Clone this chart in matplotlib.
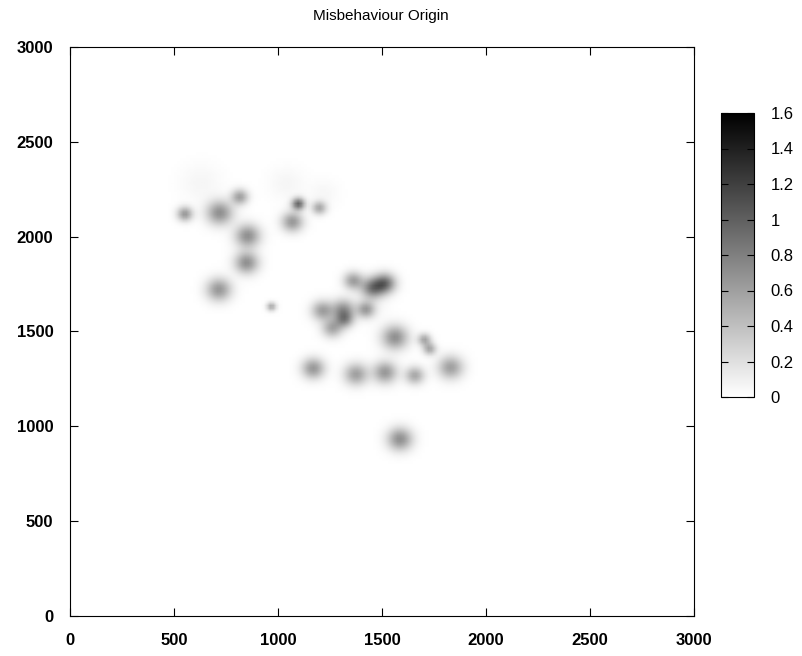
import numpy as np
import matplotlib.pyplot as plt

# hot spots (data units), peak level and spread
blob_x = [548, 716, 813, 851, 846, 712, 966, 1067, 1096, 1197,
          1361, 1455, 1515, 1212, 1313, 1320, 1260, 1423, 1563, 1705,
          1730, 1832, 1168, 1375, 1515, 1659, 1587,
          625, 1040, 1220, 1440]
blob_y = [2119, 2125, 2209, 2003, 1861, 1719, 1629, 2077, 2172, 2151,
          1766, 1728, 1752, 1608, 1613, 1560, 1515, 1613, 1466, 1455,
          1405, 1307, 1302, 1271, 1281, 1265, 928,
          2283, 2280, 2230, 1640]
blob_peak = [0.65, 0.7, 0.6, 0.7, 0.7, 0.65, 0.55, 0.65, 0.95, 0.55,
             0.6, 0.8, 0.85, 0.6, 0.65, 0.6, 0.55, 0.6, 0.7, 0.55,
             0.55, 0.6, 0.65, 0.6, 0.65, 0.55, 0.7,
             0.06, 0.06, 0.05, 0.05]
blob_sigma = [26, 44, 28, 42, 40, 42, 16, 36, 22, 24,
              32, 38, 36, 36, 38, 30, 34, 30, 44, 22,
              22, 42, 38, 40, 40, 32, 42,
              70, 60, 50, 60]

cbar_ticks = [0, 0.2, 0.4, 0.6, 0.8, 1, 1.2, 1.4, 1.6]

xs = np.arange(0, 3001, 15)
ys = np.arange(0, 3001, 15)
gx, gy = np.meshgrid(xs, ys)
z = np.zeros_like(gx, dtype=float)
for bx, by, bp, bs in zip(blob_x, blob_y, blob_peak, blob_sigma):
    z += bp * np.exp(-((gx - bx) ** 2 + (gy - by) ** 2) / (2.0 * bs ** 2))

plt.rcParams['font.family'] = ['Liberation Sans', 'DejaVu Sans']

fig = plt.figure(figsize=(8.03, 6.56), dpi=100)
ax = fig.add_axes([70 / 803, 40 / 656, 624 / 803, 569 / 656])
im = ax.imshow(z, origin='lower', extent=[0, 3000, 0, 3000], cmap='gray_r',
               vmin=0, vmax=1.6, interpolation='bilinear', aspect='auto')
ax.set_xlim(0, 3000)
ax.set_ylim(0, 3000)
ax.set_xticks(range(0, 3001, 500))
ax.set_yticks(range(0, 3001, 500))
ax.tick_params(direction='in', length=6, width=0.8, top=True, right=True,
               labelsize=12, pad=12)
for lab in ax.get_xticklabels() + ax.get_yticklabels():
    lab.set_fontweight('bold')
for s in ax.spines.values():
    s.set_linewidth(0.8)

fig.text(381 / 803, 1 - 16 / 656, 'Misbehaviour Origin', ha='center', va='center',
         fontsize=11)

cax = fig.add_axes([721 / 803, 259 / 656, 33 / 803, 284 / 656])
cb = fig.colorbar(im, cax=cax, ticks=cbar_ticks)
cb.ax.set_yticklabels(['0', '0.2', '0.4', '0.6', '0.8', '1', '1.2', '1.4', '1.6'])
cb.ax.tick_params(direction='in', length=5, width=0.8, left=True, right=True,
                  labelsize=12, pad=12)
cb.outline.set_linewidth(0.8)

fig.savefig('out.png', dpi=100)
